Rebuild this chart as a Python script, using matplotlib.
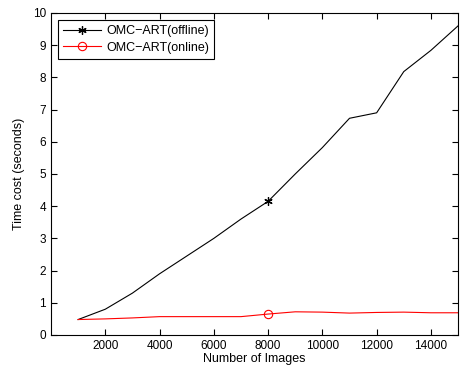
import numpy as np
import matplotlib.pyplot as plt

plt.rcParams['font.family'] = ['Liberation Sans', 'DejaVu Sans']

n_images = [1000, 2000, 3000, 4000, 5000, 6000, 7000, 8000,
            9000, 10000, 11000, 12000, 13000, 14000, 15000]
offline = [0.48, 0.80, 1.30, 1.90, 2.45, 3.00, 3.60, 4.15,
           5.00, 5.82, 6.73, 6.90, 8.18, 8.84, 9.60]
online = [0.48, 0.50, 0.53, 0.57, 0.57, 0.57, 0.57, 0.65,
          0.72, 0.71, 0.68, 0.70, 0.71, 0.69, 0.69]

fig = plt.figure(figsize=(4.61, 3.68), dpi=100)
ax = fig.add_axes([0.1106, 0.0897, 0.883, 0.875])

# matlab style asterisk marker
ax.plot(n_images, offline, color='black', lw=0.8, marker=(6, 2, 0), ms=6,
        mew=0.9, markevery=[7], label='OMC\u2212ART(offline)')
ax.plot(n_images, online, color='red', lw=0.8, marker='o', ms=6,
        mfc='none', mew=0.8, markevery=[7], label='OMC\u2212ART(online)')

ax.set_xlim(0, 15000)
ax.set_ylim(0, 10)
ax.set_xticks(range(2000, 15000, 2000))
ax.set_yticks(range(0, 11))
ax.tick_params(direction='in', top=True, right=True, labelsize=8.5, length=4)
ax.set_xlabel('Number of Images', fontsize=9, labelpad=1)
ax.set_ylabel('Time cost (seconds)', fontsize=9, labelpad=6)

leg = ax.legend(loc='upper left', fontsize=9, fancybox=False,
                edgecolor='black', framealpha=1, borderaxespad=0.6,
                handlelength=3.0, handletextpad=0.4, borderpad=0.4,
                labelspacing=0.35)
leg.get_frame().set_linewidth(0.8)

fig.savefig('out.png', dpi=100)
